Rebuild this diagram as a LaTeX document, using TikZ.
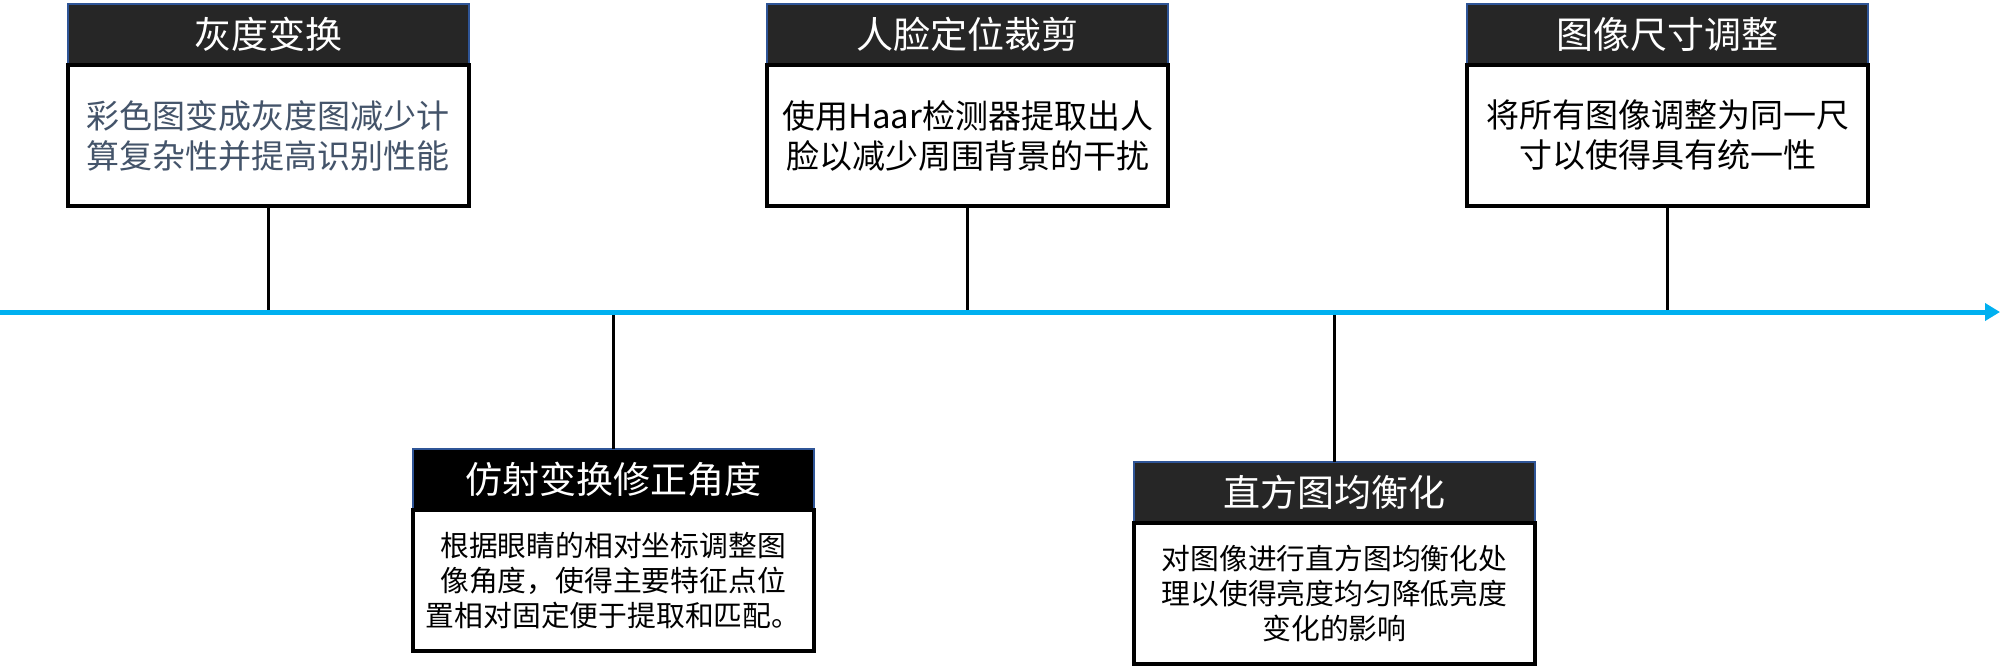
\documentclass[tikz,border=0pt]{standalone}
\usepackage{xcolor}
\usepackage{fontspec}
\usepackage{tikz}
\usetikzlibrary{arrows.meta,positioning}
\newfontfamily\cjk{Noto Sans CJK SC}
\definecolor{axisblue}{HTML}{00B0F0}
\definecolor{hdgray}{HTML}{262626}
\definecolor{hdline}{HTML}{2F5597}
\definecolor{slatex}{HTML}{44546A}
\tikzset{
  hd/.style={fill=hdgray,draw=hdline,line width=1pt,text=white,minimum width=200.5pt,
    minimum height=30.5pt,inner sep=0pt,outer sep=0pt,font=\cjk\fontsize{18.5pt}{22pt}\selectfont},
  bdtop/.style={draw=black,line width=2pt,fill=white,minimum width=200.5pt,minimum height=70.5pt,
    inner sep=0pt,outer sep=0pt,align=center,font=\cjk\fontsize{16.5pt}{20pt}\selectfont},
  bdbot/.style={bdtop,font=\cjk\fontsize{14.4pt}{17.5pt}\selectfont},
  ax/.style={-{Triangle[length=7.5pt,width=8.5pt]},line width=2.5pt,axisblue},
  ln/.style={line width=1.5pt,black}
}
\begin{document}
\begin{tikzpicture}[x=0.5pt,y=-0.5pt]
\useasboundingbox (0,0) rectangle (2016,666);
% time axis
\coordinate (axL) at (0,312);
\coordinate (axR) at (2000,312);
% stages above the axis
\node[hd,anchor=north] (h1) at (268,4) {灰度变换};
\node[bdtop,below=0pt of h1,text=slatex] (b1) {彩色图变成灰度图减少计\\算复杂性并提高识别性能};
\node[hd,anchor=north] (h3) at (967.5,4) {人脸定位裁剪};
\node[bdtop,below=0pt of h3] (b3) {使用Haar检测器提取出人\\脸以减少周围背景的干扰};
\node[hd,anchor=north] (h5) at (1667.5,4) {图像尺寸调整};
\node[bdtop,below=0pt of h5] (b5) {将所有图像调整为同一尺\\寸以使得具有统一性};
% stages below the axis
\node[hd,anchor=north,fill=black] (h2) at (613,449) {仿射变换修正角度};
\node[bdbot,below=0pt of h2] (b2) {根据眼睛的相对坐标调整图\\像角度，使得主要特征点位\\置相对固定便于提取和匹配。};
\node[hd,anchor=north] (h4) at (1334.5,462) {直方图均衡化};
\node[bdbot,below=0pt of h4] (b4) {对图像进行直方图均衡化处\\理以使得亮度均匀降低亮度\\变化的影响};
% ticks on the axis
\coordinate (t1) at (b1.south |- axL);
\coordinate (t2) at (h2.north |- axL);
\coordinate (t3) at (b3.south |- axL);
\coordinate (t4) at (h4.north |- axL);
\coordinate (t5) at (b5.south |- axL);
\draw[ln] (b1.south) -- (t1);
\draw[ln] (h2.north) -- (t2);
\draw[ln] (b3.south) -- (t3);
\draw[ln] (h4.north) -- (t4);
\draw[ln] (b5.south) -- (t5);
\draw[ax] (axL) -- (axR);
\end{tikzpicture}
\end{document}
